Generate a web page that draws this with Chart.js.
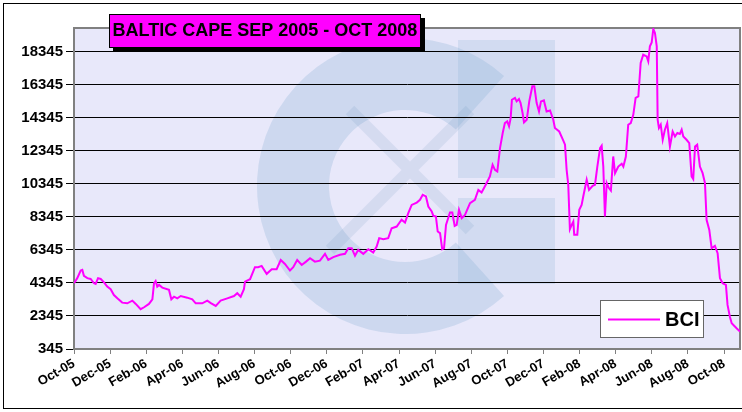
<!DOCTYPE html>
<html>
<head>
<meta charset="utf-8">
<script src="https://cdn.jsdelivr.net/npm/chart.js@4.4.1/dist/chart.umd.min.js"></script>
<style>
  html, body { margin: 0; padding: 0; background: #fff; }
  canvas { display: block; }
</style>
</head>
<body>
<canvas id="bci" width="742" height="412"></canvas>
<script>
// Baltic Capesize Index (x = months since Oct-05)
const chartTitle = 'BALTIC CAPE SEP 2005 - OCT 2008';
const seriesName = 'BCI';

const xLabels = ['Oct-05','Dec-05','Feb-06','Apr-06','Jun-06','Aug-06','Oct-06','Dec-06','Feb-07','Apr-07',
  'Jun-07','Aug-07','Oct-07','Dec-07','Feb-08','Apr-08','Jun-08','Aug-08','Oct-08'];
const yTicks = [345, 2345, 4345, 6345, 8345, 10345, 12345, 14345, 16345, 18345];

const months = [
  0.00, 0.18, 0.37, 0.46, 0.55, 0.74, 0.92, 1.11, 1.20, 1.33, 1.48, 1.66, 1.84, 2.03, 2.21, 2.40, 2.67, 2.95,
  3.23, 3.42, 3.69, 3.88, 4.15, 4.34, 4.43, 4.52, 4.61, 4.71, 4.89, 5.26, 5.39, 5.54, 5.72, 5.91, 6.27, 6.55,
  6.74, 7.10, 7.38, 7.60, 7.85, 8.12, 8.49, 8.86, 9.04, 9.23, 9.41, 9.47, 9.75, 10.02, 10.20, 10.39, 10.67,
  10.95, 11.22, 11.45, 11.68, 11.96, 12.14, 12.36, 12.61, 12.85, 13.07, 13.34, 13.62, 13.90, 14.08, 14.36,
  14.73, 15.01, 15.19, 15.38, 15.56, 15.74, 16.02, 16.30, 16.57, 16.76, 16.90, 17.13, 17.40, 17.59, 17.87,
  18.14, 18.33, 18.51, 18.70, 18.98, 19.16, 19.31, 19.49, 19.62, 19.81, 19.90, 20.04, 20.14, 20.27, 20.39,
  20.49, 20.60, 20.82, 20.95, 21.08, 21.19, 21.32, 21.47, 21.65, 21.93, 22.20, 22.39, 22.57, 22.80, 23.03,
  23.18, 23.31, 23.44, 23.59, 23.74, 23.86, 23.99, 24.09, 24.18, 24.25, 24.42, 24.51, 24.64, 24.73, 24.84,
  24.92, 25.07, 25.21, 25.38, 25.49, 25.62, 25.75, 25.86, 26.02, 26.17, 26.36, 26.54, 26.63, 26.87, 27.09,
  27.19, 27.28, 27.37, 27.46, 27.56, 27.65, 27.70, 27.87, 27.98, 28.11, 28.20, 28.39, 28.52, 28.72, 28.85,
  28.98, 29.13, 29.22, 29.31, 29.40, 29.50, 29.62, 29.73, 29.86, 29.96, 30.14, 30.33, 30.42, 30.56, 30.69,
  30.83, 30.97, 31.10, 31.25, 31.38, 31.52, 31.71, 31.80, 31.89, 31.99, 32.08, 32.17, 32.27, 32.32, 32.39,
  32.49, 32.60, 32.72, 32.85, 33.00, 33.15, 33.28, 33.41, 33.55, 33.65, 33.74, 33.92, 34.07, 34.20, 34.29,
  34.39, 34.51, 34.66, 34.81, 34.94, 35.03, 35.18, 35.31, 35.49, 35.64, 35.77, 35.92, 36.10, 36.19, 36.32,
  36.42, 36.69, 36.88
];
const bci = [
  4320, 4630, 5090, 5130, 4770, 4630, 4580, 4320, 4280, 4630, 4580, 4380, 4120, 3960, 3610, 3410, 3150, 3110,
  3270, 3070, 2750, 2870, 3070, 3350, 4320, 4460, 4120, 4220, 4060, 3920, 3350, 3510, 3410, 3550, 3450, 3350,
  3110, 3110, 3270, 3110, 2950, 3270, 3410, 3550, 3720, 3510, 3960, 4420, 4570, 5290, 5290, 5370, 4890,
  5170, 5170, 5730, 5490, 5090, 5290, 5730, 5430, 5630, 5840, 5630, 5690, 6100, 5730, 5900,
  6040, 6100, 6440, 6440, 5980, 6340, 6100, 6380, 6180, 6540, 7050, 6990, 7050, 7650, 7750,
  8160, 7990, 8560, 9060, 9200, 9370, 9670, 9570, 8960, 8660, 8400, 8360, 7450, 7350, 6380,
  6440, 7850, 8600, 8600, 7790, 7850, 8760, 8260, 8460, 9170, 9370, 9970, 9810, 10280, 10780,
  11490, 11180, 11080, 12500, 13410, 14010, 14110, 13810, 14310, 15420, 15530, 15320, 15460, 15220, 14620,
  14050, 14210, 15320, 16230, 16230, 15220, 14710, 15320, 15380, 14710, 14770, 14210, 13710, 13500, 12960,
  12700, 11180, 10280, 7590, 7850, 8050, 7250, 7250, 8760, 9060, 9570, 10580, 9970, 10210, 10280,
  11380, 12500, 12640, 11380, 8360, 10380, 10080, 9930, 11990, 10980, 11380, 11550, 11380, 11990, 13910,
  14010, 14510, 15530, 15620, 17640, 18150, 18040, 17740, 18650, 18890, 19700, 19460, 18650, 14210, 13710,
  13910, 13000, 13610, 14010, 12590, 13500, 13200, 13410, 13350, 13610, 13200, 13000, 12800, 10780, 10620,
  12590, 12700, 11380, 10980, 10380, 8160, 7550, 6440, 6580, 6140, 4630, 4320, 4220, 3010, 2300,
  1900, 1600, 1400
];

const tickFont = { family: '"Liberation Sans", Arial, sans-serif', weight: 'bold' };

// plot background, faint logo watermark, frame, title box and legend box
const decorations = {
  id: 'decorations',
  beforeDraw(chart) {
    const { ctx, chartArea: a } = chart;
    ctx.save();
    ctx.fillStyle = '#fff';
    ctx.fillRect(0, 0, chart.width, chart.height);
    ctx.fillStyle = '#E8E8FA';
    ctx.fillRect(a.left, a.top, a.right - a.left, a.bottom - a.top);

    ctx.beginPath();
    ctx.rect(a.left, a.top, a.right - a.left, a.bottom - a.top);
    ctx.clip();
    ctx.globalAlpha = 0.3;
    ctx.fillStyle = '#8FB4D8';
    const cx = 405, cy = 186, R = 148, r = 76;
    const d = Math.PI / 180;
    ctx.beginPath();
    ctx.arc(cx, cy, R, 48 * d, 312 * d);
    ctx.arc(cx, cy, r, 312 * d, 48 * d, true);
    ctx.closePath();
    ctx.fill();
    ctx.globalAlpha = 0.25;
    ctx.fillRect(458, 40, 97, 138);
    ctx.fillRect(458, 198, 97, 86);
    ctx.globalAlpha = 0.15;
    ctx.strokeStyle = '#6E94BC';
    ctx.lineWidth = 12;
    ctx.beginPath();
    ctx.moveTo(330, 250); ctx.lineTo(470, 110);
    ctx.moveTo(350, 110); ctx.lineTo(470, 230);
    ctx.stroke();
    ctx.restore();
  },
  beforeDatasetsDraw(chart) {
    const { ctx, chartArea: a } = chart;
    ctx.save();
    ctx.strokeStyle = '#808080';
    ctx.lineWidth = 2;
    ctx.strokeRect(a.left, a.top, a.right - a.left, a.bottom - a.top);
    ctx.restore();
  },
  afterDraw(chart) {
    const { ctx } = chart;
    ctx.save();
    // outer frame
    ctx.strokeStyle = '#000';
    ctx.lineWidth = 1;
    ctx.strokeRect(3.5, 3.5, 760, 405);

    // title box with shadow
    ctx.fillStyle = '#000';
    ctx.fillRect(113, 18, 312, 34);
    ctx.fillStyle = '#FF00FF';
    ctx.fillRect(109, 14, 312, 34);
    ctx.strokeRect(109.5, 14.5, 311, 33);
    ctx.fillStyle = '#000';
    ctx.font = 'bold 18px "Liberation Sans", Arial, sans-serif';
    ctx.textAlign = 'center';
    ctx.textBaseline = 'middle';
    ctx.fillText(chartTitle, 265, 31.5);

    // legend
    const ds = chart.data.datasets[0];
    ctx.fillStyle = '#fff';
    ctx.fillRect(601, 301, 103, 37);
    ctx.strokeStyle = '#666';
    ctx.strokeRect(600.5, 300.5, 103, 37);
    ctx.strokeStyle = ds.borderColor;
    ctx.lineWidth = 2;
    ctx.beginPath();
    ctx.moveTo(608, 319.5); ctx.lineTo(660, 319.5);
    ctx.stroke();
    ctx.fillStyle = '#000';
    ctx.font = 'bold 20px "Liberation Sans", Arial, sans-serif';
    ctx.textAlign = 'left';
    ctx.fillText(ds.label, 665, 320.5);
    ctx.restore();
  }
};

new Chart(document.getElementById('bci'), {
  type: 'line',
  data: {
    datasets: [{
      label: seriesName,
      data: months.map((m, i) => ({ x: m, y: bci[i] })),
      borderColor: '#FF00FF',
      borderWidth: 2,
      pointRadius: 0,
      tension: 0,
      fill: false
    }]
  },
  options: {
    responsive: false,
    animation: false,
    devicePixelRatio: 1,
    layout: { padding: { top: 28, right: 2, left: 0, bottom: 0 } },
    plugins: { legend: { display: false }, tooltip: { enabled: false } },
    scales: {
      x: {
        type: 'linear',
        min: 0,
        max: 36.88,
        afterBuildTicks: s => { s.ticks = xLabels.map((_, i) => ({ value: i * 2 })); },
        afterFit: s => { s.height = 63; },
        ticks: {
          autoSkip: false,
          minRotation: 30,
          maxRotation: 30,
          padding: 2,
          color: '#000',
          font: { ...tickFont, size: 13 },
          callback: v => xLabels[Math.round(v / 2)]
        },
        grid: { drawOnChartArea: false, color: '#808080', tickLength: 5 },
        border: { color: '#808080', width: 2 }
      },
      y: {
        min: 345,
        max: 19760,
        afterBuildTicks: s => { s.ticks = yTicks.map(v => ({ value: v })); },
        afterFit: s => { s.width = 74; },
        ticks: {
          padding: 3,
          color: '#000',
          font: { ...tickFont, size: 15 },
          callback: v => String(v)
        },
        grid: { color: '#000', lineWidth: 1, tickLength: 8 },
        border: { color: '#808080', width: 2 }
      }
    }
  },
  plugins: [decorations]
});
</script>
</body>
</html>
